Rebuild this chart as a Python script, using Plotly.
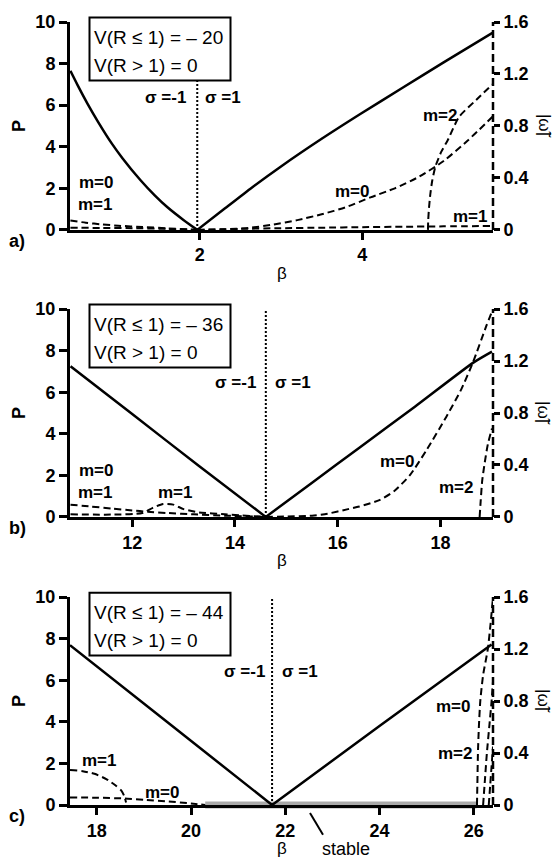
import plotly.graph_objects as go

# ---------------- data ----------------
# Panel a : V(R<=1) = -20
beta_a_P_left = [0.41, 0.5, 0.616, 0.75, 0.92, 1.05, 1.27, 1.45, 1.6, 1.8, 1.97]
P_a_left = [7.65, 6.95, 6.1, 5.2, 4.15, 3.45, 2.4, 1.65, 1.1, 0.48, 0.0]
beta_a_P_right = [1.97, 2.3, 2.62, 3.0, 3.5, 3.97, 4.5, 5.0, 5.6]
P_a_right = [0.0, 1.0, 1.97, 3.05, 4.38, 5.56, 6.85, 8.06, 9.48]
beta_a_m0_left = [0.41, 0.6, 0.8, 1.0, 1.3, 1.6, 1.97]
w_a_m0_left = [0.072, 0.055, 0.042, 0.032, 0.022, 0.012, 0.0]
beta_a_m1_left = [0.41, 0.8, 1.2, 1.6, 1.97]
w_a_m1_left = [0.016, 0.015, 0.013, 0.008, 0.0]
beta_a_m0_right = [1.97, 2.3, 2.6, 2.9, 3.2, 3.5, 3.8, 4.1, 4.4, 4.7, 5.0, 5.3, 5.6]
w_a_m0_right = [0.0, 0.004, 0.015, 0.04, 0.075, 0.12, 0.175, 0.25, 0.32, 0.41, 0.53, 0.69, 0.87]
beta_a_m1_right = [1.97, 2.5, 3.0, 3.5, 4.0, 4.5, 5.0, 5.6]
w_a_m1_right = [0.0, 0.008, 0.013, 0.017, 0.021, 0.024, 0.027, 0.03]
beta_a_m2 = [4.807, 4.81, 4.82, 4.837, 4.86, 4.9, 4.97, 5.05, 5.19, 5.4, 5.6]
w_a_m2 = [0.0, 0.07, 0.17, 0.28, 0.38, 0.49, 0.6, 0.69, 0.87, 1.0, 1.12]
sigma_a = 1.97

# Panel b : V(R<=1) = -36
beta_b_P_left = [10.8, 12.0, 13.3, 14.6]
P_b_left = [7.25, 4.95, 2.45, 0.0]
beta_b_P_right = [14.6, 15.5, 16.42, 17.5, 18.63, 19.0]
P_b_right = [0.0, 1.65, 3.33, 5.3, 7.41, 7.95]
beta_b_m0_left = [10.8, 11.2, 11.6, 12.0, 12.3, 12.7, 13.2, 13.8, 14.6]
w_b_m0_left = [0.094, 0.08, 0.065, 0.05, 0.04, 0.03, 0.02, 0.01, 0.0]
beta_b_m1_left = [10.8, 11.6, 12.2, 12.4, 12.6, 12.8, 13.0, 13.3, 13.8, 14.6]
w_b_m1_left = [0.02, 0.018, 0.03, 0.07, 0.1, 0.095, 0.06, 0.035, 0.02, 0.0]
beta_b_m0_right = [14.6, 15.0, 15.5, 15.8, 16.2, 16.42, 16.81, 17.1, 17.4, 17.72, 18.11, 18.4, 18.63, 18.89, 19.0]
w_b_m0_right = [0.0, 0.003, 0.01, 0.025, 0.06, 0.08, 0.13, 0.2, 0.32, 0.51, 0.77, 0.98, 1.19, 1.47, 1.58]
beta_b_m2 = [18.76, 18.78, 18.81, 18.86, 18.92, 19.0]
w_b_m2 = [0.0, 0.12, 0.28, 0.42, 0.56, 0.68]
sigma_b = 14.6

# Panel c : V(R<=1) = -44
beta_c_P_left = [17.43, 19.5, 21.72]
P_c_left = [7.69, 3.98, 0.0]
beta_c_P_right = [21.72, 24.0, 26.38]
P_c_right = [0.0, 3.8, 7.72]
beta_c_m1_left = [17.43, 17.7, 17.95, 18.2, 18.4, 18.52, 18.58, 18.62]
w_c_m1_left = [0.27, 0.26, 0.24, 0.2, 0.15, 0.11, 0.07, 0.02]
beta_c_m0_left = [17.43, 18.0, 18.6, 19.0, 19.5, 20.0, 20.3]
w_c_m0_left = [0.058, 0.056, 0.05, 0.04, 0.028, 0.012, 0.0]
beta_c_m0_right = [26.07, 26.08, 26.09, 26.11, 26.14, 26.2, 26.3, 26.36, 26.41]
w_c_m0_right = [0.0, 0.2, 0.4, 0.6, 0.8, 1.0, 1.2, 1.4, 1.6]
beta_c_m2 = [26.2, 26.24, 26.28, 26.33, 26.38, 26.41]
w_c_m2 = [0.0, 0.2, 0.4, 0.6, 0.8, 0.95]
beta_c_m3 = [26.32, 26.35, 26.38, 26.41]
w_c_m3 = [0.0, 0.15, 0.3, 0.45]
sigma_c = 21.72
stable_c = [20.3, 26.06]

# axes
x_range_a = [0.405, 5.607]
x_range_b = [10.79, 19.02]
x_range_c = [17.43, 26.41]
x_ticks_a = [2, 4]
x_ticks_b = [12, 14, 16, 18]
x_ticks_c = [18, 20, 22, 24, 26]
P_ticks = [0, 2, 4, 6, 8, 10]
w_ticks = [0, 0.4, 0.8, 1.2, 1.6]
w_tick_text = ["0", "0.4", "0.8", "1.2", "1.6"]
box_texts = [("V(R ≤ 1) = – 20", "V(R > 1) = 0"),
             ("V(R ≤ 1) = – 36", "V(R > 1) = 0"),
             ("V(R ≤ 1) = – 44", "V(R > 1) = 0")]

# ---------------- geometry ----------------
W, H = 557, 862
L, R, T, B = 70, 64, 14, 57
FONT = "Liberation Sans, Arial, sans-serif"


def px_x(px):
    return (px - L) / (W - L - R)


def px_y(py):
    return (H - B - py) / (H - T - B)


tops = [14, 304, 595]
bots = [224, 514, 805]

fig = go.Figure()


def add_line(xs, ys, xa, ya, style):
    if style == "solid":
        ln = dict(color="black", width=2.5, shape="spline", smoothing=0.6)
    elif style == "dash":
        ln = dict(color="black", width=2, dash="7px,4px", shape="spline", smoothing=0.6)
    else:
        ln = dict(color="black", width=2, dash="2px,2px")
    fig.add_trace(go.Scatter(x=xs, y=ys, xaxis=xa, yaxis=ya, mode="lines",
                             line=ln, showlegend=False, hoverinfo="skip"))


# panel a
add_line([sigma_a, sigma_a], [0, 10], "x", "y", "dot")
add_line(beta_a_P_left, P_a_left, "x", "y", "solid")
add_line(beta_a_P_right, P_a_right, "x", "y", "solid")
add_line(beta_a_m0_left, w_a_m0_left, "x", "y2", "dash")
add_line(beta_a_m1_left, w_a_m1_left, "x", "y2", "dash")
add_line(beta_a_m0_right, w_a_m0_right, "x", "y2", "dash")
add_line(beta_a_m1_right, w_a_m1_right, "x", "y2", "dash")
add_line(beta_a_m2, w_a_m2, "x", "y2", "dash")
# panel b
add_line([sigma_b, sigma_b], [0, 10], "x2", "y3", "dot")
add_line(beta_b_P_left, P_b_left, "x2", "y3", "solid")
add_line(beta_b_P_right, P_b_right, "x2", "y3", "solid")
add_line(beta_b_m0_left, w_b_m0_left, "x2", "y4", "dash")
add_line(beta_b_m1_left, w_b_m1_left, "x2", "y4", "dash")
add_line(beta_b_m0_right, w_b_m0_right, "x2", "y4", "dash")
add_line(beta_b_m2, w_b_m2, "x2", "y4", "dash")
# panel c
add_line([sigma_c, sigma_c], [0, 10], "x3", "y5", "dot")
add_line(beta_c_P_left, P_c_left, "x3", "y5", "solid")
add_line(beta_c_P_right, P_c_right, "x3", "y5", "solid")
add_line(beta_c_m1_left, w_c_m1_left, "x3", "y6", "dash")
add_line(beta_c_m0_left, w_c_m0_left, "x3", "y6", "dash")
add_line(beta_c_m0_right, w_c_m0_right, "x3", "y6", "dash")
add_line(beta_c_m2, w_c_m2, "x3", "y6", "dash")
add_line(beta_c_m3, w_c_m3, "x3", "y6", "dash")

tickfont = dict(family=FONT, size=18, color="black", weight="bold")
xcommon = dict(showline=True, linecolor="black", linewidth=3, ticks="outside",
               ticklen=7, tickwidth=2.5, tickcolor="black", showgrid=False,
               zeroline=False, tickfont=tickfont, domain=[0, 1])
ycommon = dict(showline=True, linecolor="black", linewidth=3, ticks="outside",
               ticklen=8, tickwidth=2.5, tickcolor="black", showgrid=False,
               zeroline=False, tickfont=tickfont, range=[0, 10], tickvals=P_ticks)
rcommon = dict(showline=False, ticks="outside", ticklen=6, tickwidth=2.5,
               tickcolor="black", showgrid=False, zeroline=False, tickfont=tickfont,
               range=[0, 1.6], tickvals=w_ticks, ticktext=w_tick_text, side="right")

doms = [[px_y(bots[i]), px_y(tops[i])] for i in range(3)]

fig.update_layout(
    width=W, height=H, margin=dict(l=L, r=R, t=T, b=B),
    paper_bgcolor="white", plot_bgcolor="white",
    font=dict(family=FONT, color="black"),
    xaxis=dict(xcommon, anchor="y", range=x_range_a, tickvals=x_ticks_a),
    yaxis=dict(ycommon, anchor="x", domain=doms[0]),
    yaxis2=dict(rcommon, anchor="x", overlaying="y"),
    xaxis2=dict(xcommon, anchor="y3", range=x_range_b, tickvals=x_ticks_b),
    yaxis3=dict(ycommon, anchor="x2", domain=doms[1]),
    yaxis4=dict(rcommon, anchor="x2", overlaying="y3"),
    xaxis3=dict(xcommon, anchor="y5", range=x_range_c, tickvals=x_ticks_c),
    yaxis5=dict(ycommon, anchor="x3", domain=doms[2]),
    yaxis6=dict(rcommon, anchor="x3", overlaying="y5"),
)

shapes = []
xrefs = ["x", "x2", "x3"]
yrefs = ["y", "y3", "y5"]
for i in range(3):
    # dashed right axis
    shapes.append(dict(type="line", xref=xrefs[i] + " domain", yref=yrefs[i] + " domain",
                       x0=1, x1=1, y0=0, y1=1,
                       line=dict(color="black", width=2.5, dash="8px,4px")))
    # legend box
    shapes.append(dict(type="rect", xref="paper", yref="paper",
                       x0=px_x(89.5), x1=px_x(230.5),
                       y0=px_y(tops[i] + 59), y1=px_y(tops[i] - 4.5),
                       line=dict(color="black", width=2), fillcolor="white", layer="above"))
# stable band
shapes.append(dict(type="line", xref="x3", yref="paper", x0=stable_c[0], x1=stable_c[1],
                   y0=px_y(805), y1=px_y(805), layer="below",
                   line=dict(color="#a9a9a9", width=7)))
shapes.append(dict(type="line", xref="paper", yref="paper",
                   x0=px_x(310), y0=px_y(813), x1=px_x(323), y1=px_y(835),
                   line=dict(color="black", width=2)))
fig.update_layout(shapes=shapes)

ann = []


def text(t, px, py, size=17, bold=True, xanchor="center", angle=0):
    ann.append(dict(text=t, x=px_x(px), y=px_y(py), xref="paper", yref="paper",
                    showarrow=False, xanchor=xanchor, yanchor="middle", textangle=angle,
                    font=dict(family=FONT, size=size, color="black",
                              weight="bold" if bold else "normal")))


for i in range(3):
    t = tops[i]
    text(box_texts[i][0], 92, t + 15.5, size=19, bold=False, xanchor="left")
    text(box_texts[i][1], 92, t + 43.5, size=19, bold=False, xanchor="left")
    text("P", 19, (tops[i] + bots[i]) / 2, size=18, angle=-90)
    text("|ω̃|", 544, (tops[i] + bots[i]) / 2, size=17, bold=False, angle=90)
    text("β", 281.5, bots[i] + 44, size=17, bold=False)
    text("abc"[i] + ")", 17, bots[i] + 11, size=18)

# sigma labels
text("σ =-1", 188, 90, xanchor="right")
text("σ =1", 203, 90, xanchor="left")
text("σ =-1", 258, 378, xanchor="right")
text("σ =1", 273, 378, xanchor="left")
text("σ =-1", 267, 670, xanchor="right")
text("σ =1", 280, 670, xanchor="left")

# mode labels
text("m=0", 96, 176)
text("m=1", 95, 198)
text("m=0", 352, 185)
text("m=2", 440, 108)
text("m=1", 470, 210)

text("m=0", 96, 467)
text("m=1", 95, 489)
text("m=1", 175, 489)
text("m=0", 397, 458)
text("m=2", 456, 484)

text("m=1", 99, 760)
text("m=0", 162, 792)
text("m=0", 473, 705, xanchor="right")
text("m=2", 475, 753, xanchor="right")
text("stable", 346, 849, size=18, bold=False)

fig.update_layout(annotations=ann)
fig.write_html("out.html", config={"displayModeBar": False},
               post_script="document.body.style.margin='0px';")
